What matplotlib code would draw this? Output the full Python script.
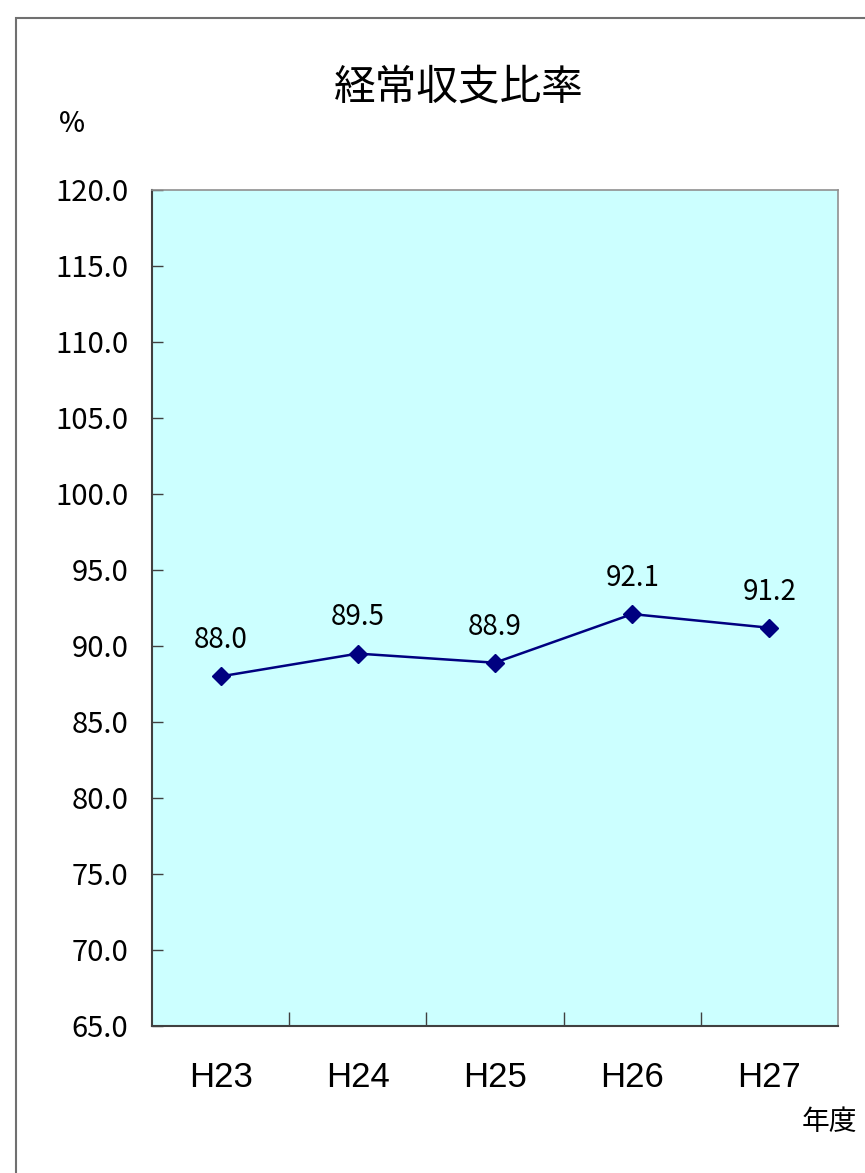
import matplotlib.pyplot as plt
from matplotlib.patches import Rectangle

plt.rcParams['font.family'] = ['Noto Sans CJK JP', 'DejaVu Sans']

years = ['H23', 'H24', 'H25', 'H26', 'H27']
ratio = [88.0, 89.5, 88.9, 92.1, 91.2]
yticks = [65, 70, 75, 80, 85, 90, 95, 100, 105, 110, 115, 120]

W, H = 865, 1173
fig = plt.figure(figsize=(W / 100, H / 100), dpi=100)

# outer chart frame (right/bottom edges fall outside the image)
fig.patches.append(Rectangle((16 / W, -0.01), 1.0, 1 - 18 / H + 0.01,
                             transform=fig.transFigure, fill=False,
                             edgecolor='#707070', linewidth=1.5))

ax = fig.add_axes([152 / W, 1 - 1026 / H, (838 - 152) / W, (1026 - 190) / H])
ax.set_facecolor('#CCFFFF')

x = list(range(len(years)))
ax.plot(x, ratio, color='#000080', linewidth=1.8, marker='D', markersize=9)
for xi, v in zip(x, ratio):
    ax.annotate(f'{v:.1f}', (xi, v), xytext=(0, 26), textcoords='offset points',
                ha='center', va='center', fontsize=20, color='black')

ax.set_xlim(-0.5, len(years) - 0.5)
ax.set_ylim(65, 120)
ax.set_yticks(yticks)
ax.set_yticklabels([f'{t:.1f}' for t in yticks], fontsize=21)
ax.tick_params(axis='y', direction='in', length=8, width=1, pad=17, color='#404040')

ax.set_xticks([i + 0.5 for i in range(len(years) - 1)])
ax.set_xticklabels([])
ax.set_xticks(x, minor=True)
ax.set_xticklabels(years, minor=True, fontsize=25, family=['Liberation Sans', 'DejaVu Sans'])
ax.tick_params(axis='x', which='major', direction='in', length=10, width=1, color='#404040')
ax.tick_params(axis='x', which='minor', length=0, pad=25)

for side in ['left', 'bottom']:
    ax.spines[side].set_color('#404040')
    ax.spines[side].set_linewidth(1.5)
for side in ['top', 'right']:
    ax.spines[side].set_color('#909090')
    ax.spines[side].set_linewidth(1.2)

fig.text(459 / W, 1 - 88 / H, '経常収支比率', ha='center', va='center', fontsize=30)
fig.text(72 / W, 1 - 123 / H, '%', ha='center', va='center', fontsize=20, fontweight='medium')
fig.text(829 / W, 1 - 1122 / H, '年度', ha='center', va='center', fontsize=20)

fig.savefig('out.png', dpi=100)
